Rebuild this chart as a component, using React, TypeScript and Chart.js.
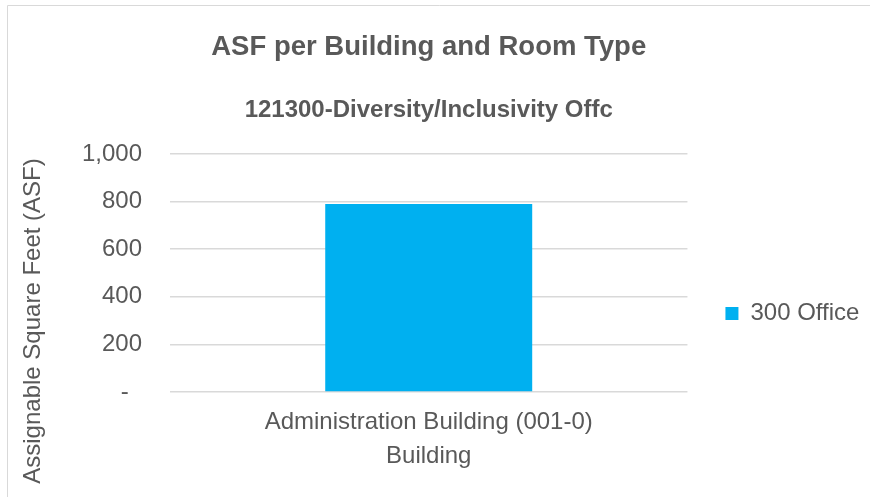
import React, { useEffect, useRef } from "react";
import { Chart, registerables } from "chart.js";

Chart.register(...registerables);

const chartTitle = "ASF per Building and Room Type";
const chartSubtitle = "121300-Diversity/Inclusivity Offc";
const categories = ["Administration Building (001-0)"];
const seriesName = "300 Office";
const seriesValues = [790];
const yTickValues = [0, 200, 400, 600, 800, 1000];
const yTickLabels = ["-  ", "200", "400", "600", "800", "1,000"];
const xAxisTitle = "Building";
const yAxisTitle = "Assignable Square Feet (ASF)";

const FONT = "'Liberation Sans', Arial, sans-serif";
const TEXT = "#595959";
const GRID = "#d9d9d9";
const BAR = "#00b0f0";

const decorPlugin = {
  id: "decor",
  beforeDraw(chart: any) {
    const ctx = chart.ctx;
    ctx.save();
    ctx.strokeStyle = GRID;
    ctx.lineWidth = 1;
    ctx.beginPath();
    ctx.moveTo(7.5, 600);
    ctx.lineTo(7.5, 5.5);
    ctx.lineTo(900, 5.5);
    ctx.stroke();
    ctx.restore();
  },
  afterDraw(chart: any) {
    const ctx = chart.ctx;
    ctx.save();
    ctx.fillStyle = TEXT;
    ctx.font = `24px ${FONT}`;
    ctx.textAlign = "center";
    ctx.textBaseline = "middle";
    ctx.translate(33, 321);
    ctx.rotate(-Math.PI / 2);
    ctx.fillText(yAxisTitle, 0, 0);
    ctx.restore();
  },
};

export default function App() {
  const ref = useRef<HTMLCanvasElement | null>(null);

  useEffect(() => {
    if (!ref.current) return;
    const chart = new Chart(ref.current, {
      type: "bar",
      data: {
        labels: categories,
        datasets: [
          {
            label: seriesName,
            data: seriesValues,
            backgroundColor: BAR,
            borderWidth: 0,
            barPercentage: 0.4,
            categoryPercentage: 1,
          },
        ],
      },
      options: {
        responsive: false,
        animation: false,
        layout: { padding: { left: 0, right: 0.6, top: 0, bottom: 0 } },
        plugins: {
          tooltip: { enabled: false },
          title: {
            display: true,
            fullSize: false,
            text: chartTitle,
            color: TEXT,
            font: { family: FONT, size: 27.5, weight: "bold", lineHeight: 1.2 },
            padding: { top: 30.5, bottom: 0 },
          },
          subtitle: {
            display: true,
            fullSize: false,
            text: chartSubtitle,
            color: TEXT,
            font: { family: FONT, size: 24, weight: "bold", lineHeight: 1.2 },
            padding: { top: 32.1, bottom: 29.6 },
          },
          legend: {
            position: "right",
            title: {
              display: true,
              text: "",
              font: { family: FONT, size: 24, lineHeight: 1.2 },
              padding: { top: 50.6, bottom: 50.6 },
            },
            labels: {
              color: TEXT,
              font: { family: FONT, size: 24 },
              boxWidth: 13,
              boxHeight: 13,
              padding: 38,
            },
          },
        },
        scales: {
          x: {
            grid: { display: false },
            border: { display: false },
            ticks: {
              color: TEXT,
              font: { family: FONT, size: 24 },
              padding: 7.6,
              maxRotation: 0,
            },
            title: {
              display: true,
              text: xAxisTitle,
              color: TEXT,
              font: { family: FONT, size: 24 },
              padding: { top: 0, bottom: 26.6 },
            },
            afterFit(scale: any) {
              scale.height = 105;
            },
          },
          y: {
            min: 0,
            max: 1000,
            border: { display: false },
            grid: { color: GRID, lineWidth: 1.5, drawTicks: false },
            afterBuildTicks(scale: any) {
              scale.ticks = yTickValues.map((v) => ({ value: v }));
            },
            ticks: {
              color: TEXT,
              font: { family: FONT, size: 24 },
              padding: 28,
              callback: (v: any) => {
                const i = yTickValues.indexOf(Number(v));
                return i >= 0 ? yTickLabels[i] : "";
              },
            },
            afterFit(scale: any) {
              scale.width = 170;
            },
          },
        },
      },
      plugins: [decorPlugin],
    });
    return () => chart.destroy();
  }, []);

  return (
    <div style={{ position: "fixed", left: 0, top: 0, width: 870, height: 497, background: "#fff" }}>
      <canvas ref={ref} width={870} height={497} style={{ display: "block" }} />
    </div>
  );
}
